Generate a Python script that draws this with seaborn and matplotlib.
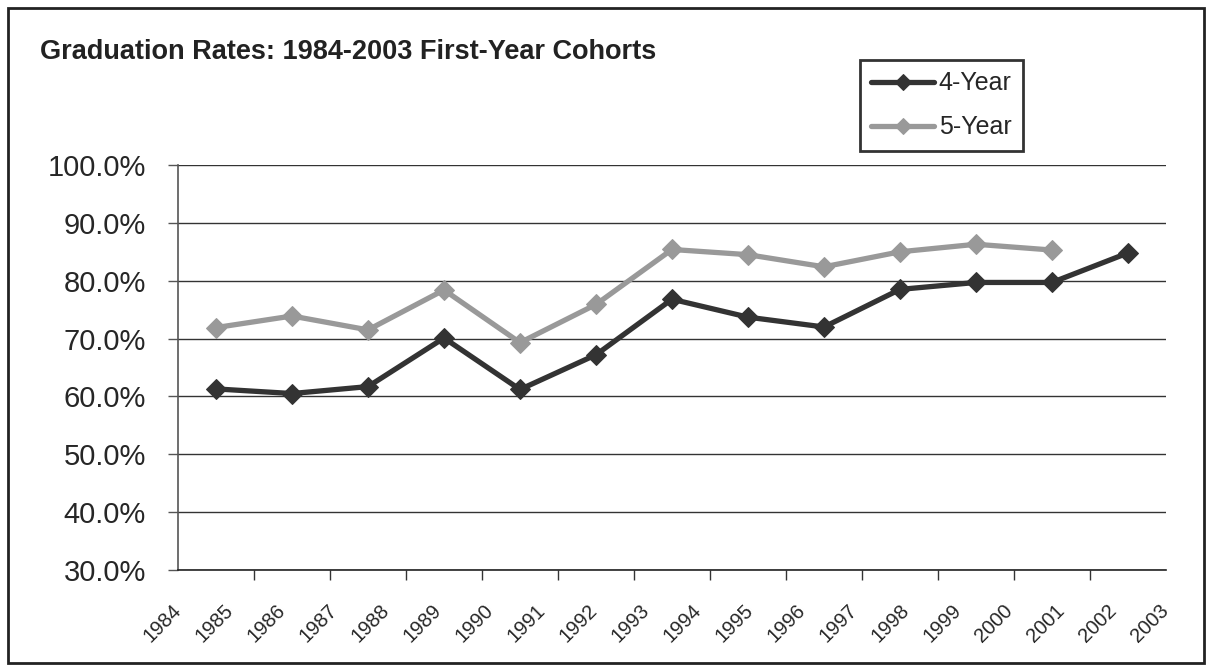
import numpy as np
import pandas as pd
import matplotlib
matplotlib.use("Agg")
import matplotlib.pyplot as plt
from matplotlib.ticker import PercentFormatter
import seaborn as sns

# values (percent)
four_year = [61.3, 60.5, 61.7, 70.1, 61.2, 67.2, 76.8, 73.7, 72.0, 78.5, 79.7, 79.7, 84.8]
five_year = [71.9, 73.9, 71.5, 78.4, 69.3, 75.9, 85.4, 84.5, 82.4, 85.0, 86.3, 85.3]
year_labels = [str(y) for y in range(1984, 2004)]
title = "Graduation Rates: 1984-2003 First-Year Cohorts"

sns.set_style("white")
plt.rcParams["font.family"] = ["Liberation Sans", "DejaVu Sans"]

fig = plt.figure(figsize=(12.12, 6.71), dpi=100)
ax = fig.add_axes([178 / 1212, 1 - 570 / 671, (1166 - 178) / 1212, (570 - 165) / 671])

sns.lineplot(x=np.arange(len(four_year)), y=four_year, ax=ax, color="#333333",
             linewidth=3.8, marker="D", markersize=10.5, markeredgecolor="#333333",
             label="4-Year")
sns.lineplot(x=np.arange(len(five_year)), y=five_year, ax=ax, color="#999999",
             linewidth=3.8, marker="D", markersize=10.5, markeredgecolor="#999999",
             label="5-Year")

n = len(four_year)
ax.set_xlim(-0.5, n - 0.5)
ax.set_ylim(30, 100)
ax.set_yticks(np.arange(30, 101, 10))
ax.yaxis.set_major_formatter(PercentFormatter(decimals=1))
ax.grid(axis="y", color="#333333", linewidth=1)
ax.set_axisbelow(True)

# category boundaries carry the tick marks, year labels spread over the axis
ax.set_xticks(np.arange(-0.5, n, 1), minor=True)
ax.set_xticks(np.linspace(-0.5, n - 0.5, len(year_labels)))
ax.set_xticklabels(year_labels, rotation=45, ha="right", va="center",
                   rotation_mode="anchor", fontsize=14.5)
ax.tick_params(axis="x", which="major", length=0, pad=27)
ax.tick_params(axis="x", which="minor", length=7, width=1, color="#333333",
               direction="out", bottom=True)
ax.tick_params(axis="y", length=7, width=1, color="#555555", direction="out",
               left=True, labelsize=21, pad=16)
ax.set_xlabel("")
ax.set_ylabel("")

for s in ["top", "right"]:
    ax.spines[s].set_visible(False)
ax.spines["left"].set_color("#555555")
ax.spines["left"].set_linewidth(1.2)
ax.spines["bottom"].set_color("#222222")
ax.spines["bottom"].set_linewidth(1.2)

leg = ax.legend(loc="upper left", bbox_to_anchor=(860 / 1212, 1 - 60 / 671),
                bbox_transform=fig.transFigure, fancybox=False, frameon=True,
                fontsize=18, handlelength=2.5, borderpad=0.45, labelspacing=0.8,
                handletextpad=0.2, borderaxespad=0)
leg.get_frame().set_edgecolor("black")
leg.get_frame().set_linewidth(2)
for h in leg.legend_handles:
    h.set_markersize(8)

fig.text(40 / 1212, 1 - 52 / 671, title, fontsize=19.5, fontweight="bold",
         ha="left", va="center", color="#222222")

border = plt.Rectangle((8 / 1212, 8 / 671), 1 - 16 / 1212, 1 - 16 / 671,
                       transform=fig.transFigure, fill=False,
                       edgecolor="#222222", linewidth=2)
fig.patches.append(border)

fig.savefig("out.png", dpi=100)
